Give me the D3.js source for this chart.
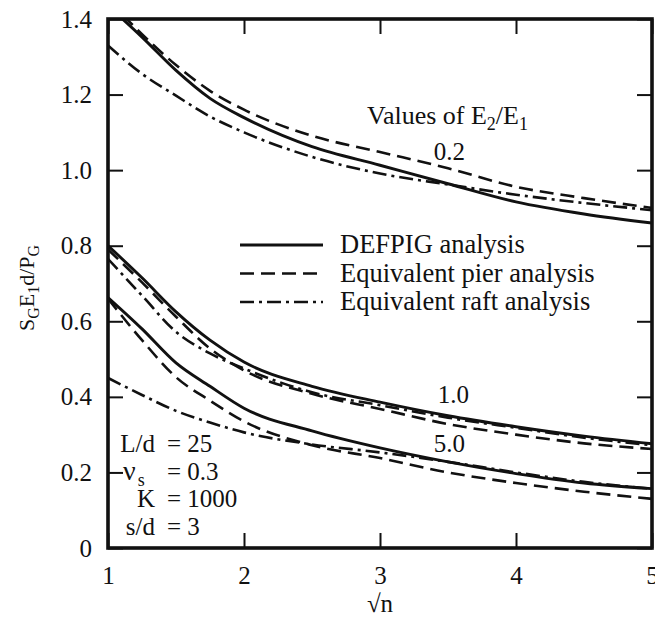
<!DOCTYPE html>
<html>
<head>
<meta charset="utf-8">
<script src="https://cdn.jsdelivr.net/npm/d3@7"></script>
<style>
  body { margin: 0; background: #fff; }
</style>
</head>
<body>
<div id="chart"></div>
<script>
// sqrt(n) positions where values were read
var xVals = [1, 1.25, 1.5, 1.75, 2, 2.5, 3, 3.5, 4, 4.5, 5];

// E2/E1 = 0.2
var defpig02 = [1.435, 1.352, 1.264, 1.19, 1.139, 1.062, 1.013, 0.964, 0.916, 0.884, 0.86];
var pier02   = [1.45, 1.36, 1.278, 1.21, 1.16, 1.091, 1.048, 1.005, 0.956, 0.926, 0.90];
var raft02   = [1.33, 1.255, 1.197, 1.142, 1.10, 1.035, 0.991, 0.962, 0.935, 0.913, 0.894];

// E2/E1 = 1.0
var defpig10 = [0.80, 0.715, 0.625, 0.55, 0.492, 0.428, 0.386, 0.35, 0.321, 0.296, 0.276];
var pier10   = [0.79, 0.703, 0.612, 0.528, 0.47, 0.408, 0.368, 0.328, 0.30, 0.277, 0.262];
var raft10   = [0.765, 0.668, 0.572, 0.515, 0.475, 0.412, 0.378, 0.345, 0.318, 0.292, 0.272];

// E2/E1 = 5.0
var defpig50 = [0.663, 0.58, 0.49, 0.428, 0.37, 0.31, 0.265, 0.228, 0.197, 0.172, 0.157];
var pier50   = [0.66, 0.55, 0.452, 0.39, 0.335, 0.272, 0.238, 0.20, 0.172, 0.149, 0.13];
var raft50   = [0.45, 0.405, 0.363, 0.332, 0.306, 0.274, 0.253, 0.228, 0.20, 0.175, 0.157];

var xTicks = [1, 2, 3, 4, 5];
var xTickLabels = ["1", "2", "3", "4", "5"];
var yTicks = [0, 0.2, 0.4, 0.6, 0.8, 1.0, 1.2, 1.4];
var yTickLabels = ["0", "0.2", "0.4", "0.6", "0.8", "1.0", "1.2", "1.4"];

var legendNames = ["DEFPIG analysis", "Equivalent pier analysis", "Equivalent raft analysis"];
var ratioLabels = ["0.2", "1.0", "5.0"];
var ratioLabelAt = [[3.51, 1.027], [3.54, 0.384], [3.51, 0.254]];

var FONT = "Liberation Serif";

function init(){
    var w = 655, h = 619;
    var left = 108, right = 652, top = 19, bottom = 548;

    var x = d3.scaleLinear().domain([1, 5]).range([left, right]);
    var y = d3.scaleLinear().domain([0, 1.4]).range([bottom, top]);

    var svg = d3.select("#chart").append("svg")
                .attr("width", w)
                .attr("height", h)
                .attr("font-family", FONT)
                .attr("fill", "#111");

    svg.append("clipPath").attr("id", "plotclip")
        .append("rect")
        .attr("x", left).attr("y", top)
        .attr("width", right - left).attr("height", bottom - top);

    var styles = [
        {dash: null, width: 2.9},
        {dash: "14,7", width: 2.6},
        {dash: "14,5,3,5", width: 2.6}
    ];

    var groups = [
        [defpig02, pier02, raft02],
        [defpig10, pier10, raft10],
        [defpig50, pier50, raft50]
    ];

    var line = d3.line()
        .x(function(d){ return x(d[0]); })
        .y(function(d){ return y(d[1]); })
        .curve(d3.curveMonotoneX);

    var curves = svg.append("g").attr("clip-path", "url(#plotclip)");
    groups.forEach(function(g){
        g.forEach(function(vals, i){
            curves.append("path")
                .datum(xVals.map(function(xv, k){ return [xv, vals[k]]; }))
                .attr("d", line)
                .attr("fill", "none")
                .attr("stroke", "#111")
                .attr("stroke-width", styles[i].width)
                .attr("stroke-dasharray", styles[i].dash);
        });
    });

    // axes, ticks pointing inward
    var yAxis = svg.append("g").attr("transform", "translate(" + left + ",0)")
        .call(d3.axisLeft(y).tickValues(yTicks).tickSize(-15).tickPadding(16)
              .tickFormat(function(d, i){ return yTickLabels[i]; }));
    var yAxisR = svg.append("g").attr("transform", "translate(" + right + ",0)")
        .call(d3.axisRight(y).tickValues(yTicks).tickSize(-15).tickFormat(""));
    var xAxis = svg.append("g").attr("transform", "translate(0," + bottom + ")")
        .call(d3.axisBottom(x).tickValues(xTicks).tickSize(-15).tickPadding(18)
              .tickFormat(function(d, i){ return xTickLabels[i]; }));
    var xAxisT = svg.append("g").attr("transform", "translate(0," + top + ")")
        .call(d3.axisTop(x).tickValues(xTicks).tickSize(-15).tickFormat(""));

    [yAxis, yAxisR, xAxis, xAxisT].forEach(function(a){
        a.attr("font-family", FONT).attr("font-size", 25);
        a.select(".domain").remove();
        a.selectAll("line").attr("stroke", "#111").attr("stroke-width", 2);
        a.selectAll("text").attr("fill", "#111");
    });

    // frame
    svg.append("rect")
        .attr("x", left).attr("y", top)
        .attr("width", right - left).attr("height", bottom - top)
        .attr("fill", "none")
        .attr("stroke", "#111")
        .attr("stroke-width", 3.6);

    // axis titles
    var yl = svg.append("text")
        .attr("transform", "translate(34,288) rotate(-90)")
        .attr("text-anchor", "middle")
        .attr("font-size", 22);
    yl.append("tspan").text("S");
    yl.append("tspan").attr("dy", 5).attr("font-size", 16).text("G");
    yl.append("tspan").attr("dy", -5).text("E");
    yl.append("tspan").attr("dy", 5).attr("font-size", 16).text("1");
    yl.append("tspan").attr("dy", -5).text("d/P");
    yl.append("tspan").attr("dy", 5).attr("font-size", 16).text("G");

    svg.append("text")
        .attr("x", x(3)).attr("y", 612)
        .attr("text-anchor", "middle")
        .attr("font-size", 25)
        .text("\u221An");

    // legend
    var lg = svg.append("g");
    legendNames.forEach(function(name, i){
        var ly = 245 + i * 28.5;
        lg.append("line")
            .attr("x1", 240).attr("x2", 323)
            .attr("y1", ly).attr("y2", ly)
            .attr("stroke", "#111")
            .attr("stroke-width", styles[i].width)
            .attr("stroke-dasharray", styles[i].dash);
        lg.append("text")
            .attr("x", 340).attr("y", ly + 8)
            .attr("font-size", 26.5)
            .text(name);
    });

    // "Values of E2/E1" heading
    var vt = svg.append("text")
        .attr("x", 367).attr("y", 124)
        .attr("font-size", 26);
    vt.append("tspan").text("Values of E");
    vt.append("tspan").attr("dy", 6).attr("font-size", 18).text("2");
    vt.append("tspan").attr("dy", -6).text("/E");
    vt.append("tspan").attr("dy", 6).attr("font-size", 18).text("1");

    ratioLabels.forEach(function(t, i){
        svg.append("text")
            .attr("x", x(ratioLabelAt[i][0]))
            .attr("y", y(ratioLabelAt[i][1]))
            .attr("text-anchor", "middle")
            .attr("font-size", 25)
            .text(t);
    });

    // parameter block
    var params = [
        {k: ["L/d"], v: "= 25"},
        {k: ["\u03BD", "s"], v: "= 0.3"},
        {k: ["K"], v: "= 1000"},
        {k: ["s/d"], v: "= 3"}
    ];
    params.forEach(function(p, i){
        var by = 452 + i * 27.5;
        var t = svg.append("text")
            .attr("y", by)
            .attr("font-size", 25);
        if (p.k[1]) {
            t.attr("x", 123);
            t.append("tspan").attr("font-size", 28).text(p.k[0]);
            t.append("tspan").attr("dx", 2).attr("dy", 6).attr("font-size", 18).text(p.k[1]);
        } else {
            t.attr("x", 155).attr("text-anchor", "end").text(p.k[0]);
        }
        svg.append("text")
            .attr("x", 167).attr("y", by)
            .attr("font-size", 25)
            .text(p.v);
    });
}
window.onload = init;
</script>
</body>
</html>
